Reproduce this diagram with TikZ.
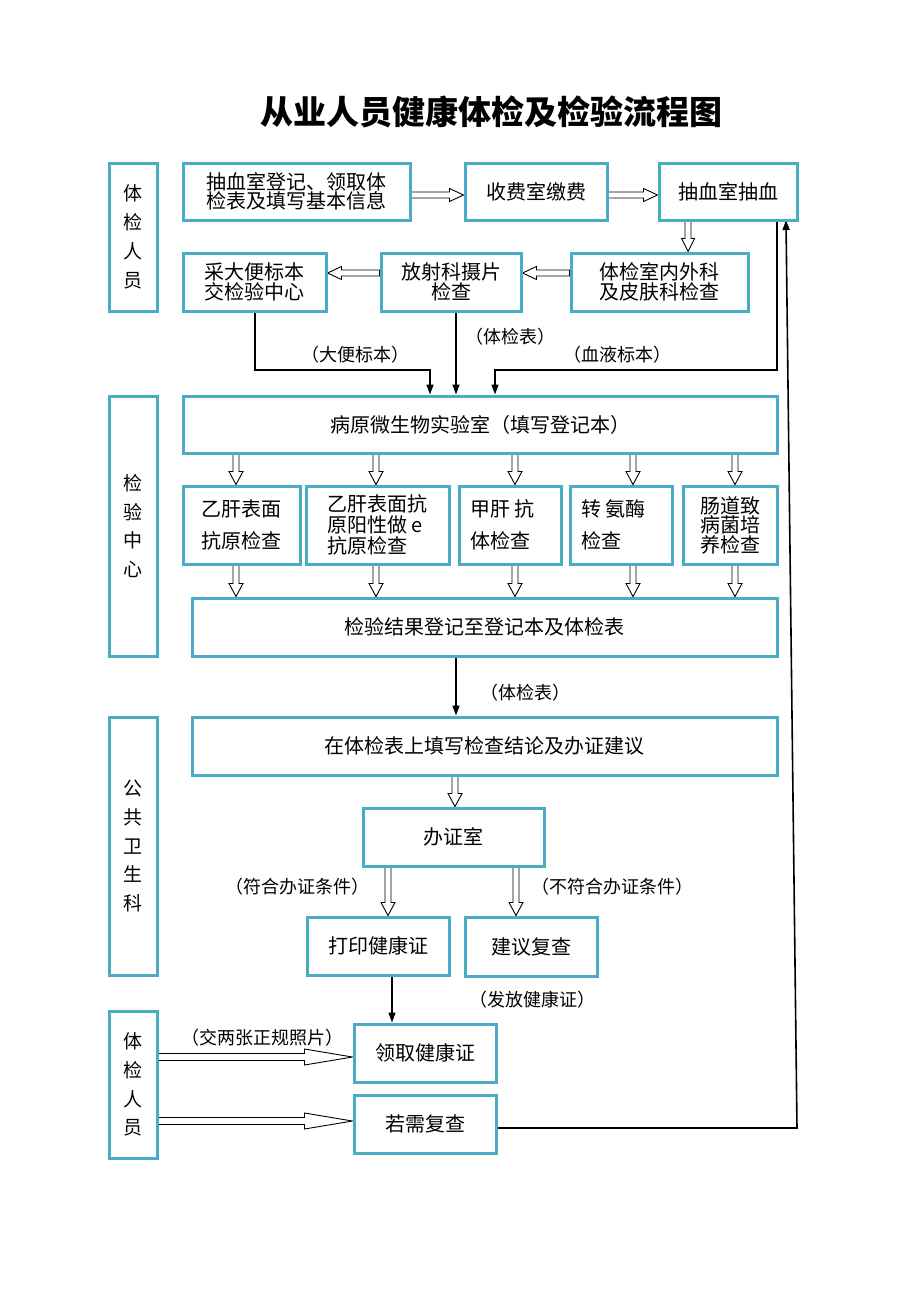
\documentclass[tikz,border=0pt]{standalone}
\usepackage{fontspec}
\setmainfont{Noto Sans CJK SC}
\usetikzlibrary{arrows.meta,calc}
\definecolor{tealb}{HTML}{4BACC6}
\pgfdeclarelayer{back}
\pgfdeclarelayer{bg}
\pgfsetlayers{back,bg,main}
\tikzset{
 box/.style={draw=tealb, line width=3pt, fill=white, inner sep=0pt, align=center, font=\fontsize{20}{20}\selectfont},
 side/.style={box, minimum width=48pt, font=\fontsize{19}{28.8}\selectfont},
 ln/.style={line width=1.6pt, -{Triangle[length=10pt,width=7pt]}},
 hol/.style={draw=black, line width=0.9pt, fill=white, line join=miter},
 lab/.style={font=\fontsize{18}{18}\selectfont, inner sep=0pt},
}
\newcommand\harr[5]{%
 \path[hol] let \p1=#1, \p2=#2, \n1={atan2(\y2-\y1,\x2-\x1)}, \n2={veclen(\x2-\x1,\y2-\y1)} in
  [shift={(\p1)}, rotate=\n1] (0pt,-#3pt) -- ({(\n2-#5)*1pt},-#3pt) -- ({(\n2-#5)*1pt},-#4pt) -- ({\n2*1pt},0pt) -- ({(\n2-#5)*1pt},#4pt) -- ({(\n2-#5)*1pt},#3pt) -- (0pt,#3pt) -- cycle;}
\begin{document}
\begin{tikzpicture}[x=1pt,y=-1pt]
\begin{pgfonlayer}{back}
\fill[white] (0,0) rectangle (920,1302);
\end{pgfonlayer}
\useasboundingbox (0,0) rectangle (920,1302);
\node[font=\fontsize{33}{33}\selectfont\bfseries] (title) at (491,112) {从业人员健康体检及检验流程图};
% side labels
\node[side, minimum height=148pt] (A) at (133,237) {体\\检\\人\\员};
\node[side, minimum height=260pt] (E) at (133,526) {检\\验\\中\\心};
\node[side, minimum height=258pt] (H) at (133,846) {公\\共\\卫\\生\\科};
\node[side, minimum height=147pt] (N) at (133,1084.5) {体\\检\\人\\员};
% row 1
\node[box, minimum width=227pt, minimum height=57pt, font=\fontsize{20}{19.5}\selectfont] (B1) at (296.5,191.5) {抽血室登记、领取体\\检表及填写基本信息};
\node[box, minimum width=142pt, minimum height=57pt] (B2) at (536,191.5) {收费室缴费};
\node[box, minimum width=138pt, minimum height=57pt] (B3) at (728,191.5) {抽血室抽血};
% row 2
\node[box, minimum width=143pt, minimum height=58pt, font=\fontsize{20}{19.5}\selectfont] (C1) at (254.5,282) {采大便标本\\交检验中心};
\node[box, minimum width=140pt, minimum height=58pt, font=\fontsize{20}{19.5}\selectfont] (C2) at (451,282) {放射科摄片\\检查};
\node[box, minimum width=177pt, minimum height=58pt, font=\fontsize{20}{19.5}\selectfont] (C3) at (659.5,282) {体检室内外科\\及皮肤科检查};
% lab
\node[box, minimum width=594pt, minimum height=57pt] (D) at (480,424.5) {病原微生物实验室（填写登记本）};
\node[box, minimum width=117pt, minimum height=78pt, font=\fontsize{20}{32}\selectfont] (T1) at (241.5,525) {乙肝表面\\抗原检查};
\node[box, minimum width=143pt, minimum height=78pt, align=left, font=\fontsize{20}{21}\selectfont] (T2) at (377.5,525) {乙肝表面抗\\原阳性做 e\\抗原检查};
\node[box, minimum width=102pt, minimum height=78pt, align=left, font=\fontsize{20}{32}\selectfont] (T3) at (510,525) {甲肝 抗\\体检查\phantom{检}};
\node[box, minimum width=102pt, minimum height=78pt, align=left, font=\fontsize{20}{32}\selectfont] (T4) at (621,525) {转 氨酶\\检查\phantom{检检}};
\node[box, minimum width=94pt, minimum height=78pt, font=\fontsize{20}{18.5}\selectfont] (T5) at (730,525) {肠道致\\病菌培\\养检查};
\node[box, minimum width=585pt, minimum height=58pt] (F) at (484.5,627) {检验结果登记至登记本及体检表};
% public health
\node[box, minimum width=585pt, minimum height=58pt] (G) at (484.5,746) {在体检表上填写检查结论及办证建议};
\node[box, minimum width=181pt, minimum height=58pt] (I) at (453.5,837) {办证室};
\node[box, minimum width=142pt, minimum height=58pt] (J) at (378,946) {打印健康证};
\node[box, minimum width=132pt, minimum height=59pt] (K) at (531,946.5) {建议复查};
\node[box, minimum width=142pt, minimum height=58pt] (L) at (425,1053) {领取健康证};
\node[box, minimum width=142pt, minimum height=58pt] (M) at (425,1124) {若需复查};
% labels
\node[lab] (l1) at (355,355) {（大便标本）};
\node[lab] (l2) at (510,337) {（体检表）};
\node[lab] (l3) at (617,355) {（血液标本）};
\node[lab] (l4) at (525,693) {（体检表）};
\node[lab] (l5) at (297,887) {（符合办证条件）};
\node[lab] (l6) at (612,887) {（不符合办证条件）};
\node[lab] (l7) at (532,1000) {（发放健康证）};
\node[lab] (l8) at (262,1038) {（交两张正规照片）};
% coordinates
\coordinate (j1) at (430,370);
\coordinate (j2) at (777,370);
\coordinate (j3) at (495,370);
\coordinate (r1) at (797,1128);
\coordinate (r2) at (786,220);
\begin{pgfonlayer}{bg}
\harr{(B1.east |- 0,195)}{(B2.west |- 0,195)}{3}{6.5}{14}
\harr{(B2.east |- 0,195)}{(B3.west |- 0,195)}{3}{6.5}{14}
\harr{(688,0 |- B3.south)}{(688,0 |- C3.north)}{3}{6.5}{13}
\harr{(C3.west |- 0,273)}{(C2.east |- 0,273)}{3}{6.5}{14}
\harr{(C2.west |- 0,273)}{(C1.east |- 0,273)}{3}{6.5}{14}
\draw[ln] (255,0 |- C1.south) |- (j1) -- (j1 |- D.north);
\draw[ln] (456,0 |- C2.south) -- (456,0 |- D.north);
\draw[ln] (j2 |- B3.south) -- (j2) -- (j3) -- (j3 |- D.north);
\foreach \tn/\ax in {T1/236,T2/376,T3/515,T4/633,T5/735}{
 \coordinate (ta) at (\ax,0 |- D.south);
 \coordinate (tb) at (\ax,0 |- \tn.north);
 \coordinate (tc) at (\ax,0 |- \tn.south);
 \coordinate (td) at (\ax,0 |- F.north);
 \harr{(ta)}{(tb)}{3}{7}{13}
 \harr{(tc)}{(td)}{3}{7}{13}
}
\draw[ln] (456,0 |- F.south) -- (456,0 |- G.north);
\harr{(455,0 |- G.south)}{(455,0 |- I.north)}{3}{7}{13}
\harr{(388,0 |- I.south)}{(388,0 |- J.north)}{3}{7}{13}
\harr{(516,0 |- I.south)}{(516,0 |- K.north)}{3}{7}{13}
\draw[ln] (392,0 |- J.south) -- (392,0 |- L.north);
\harr{(N.east |- 0,1057)}{(L.west |- 0,1057)}{3.5}{8}{48}
\harr{(N.east |- 0,1121)}{(M.west |- 0,1121)}{3.5}{8}{48}
\draw[ln] (M.east |- r1) -- (r1) -- (r2);
\end{pgfonlayer}
\end{tikzpicture}
\end{document}
